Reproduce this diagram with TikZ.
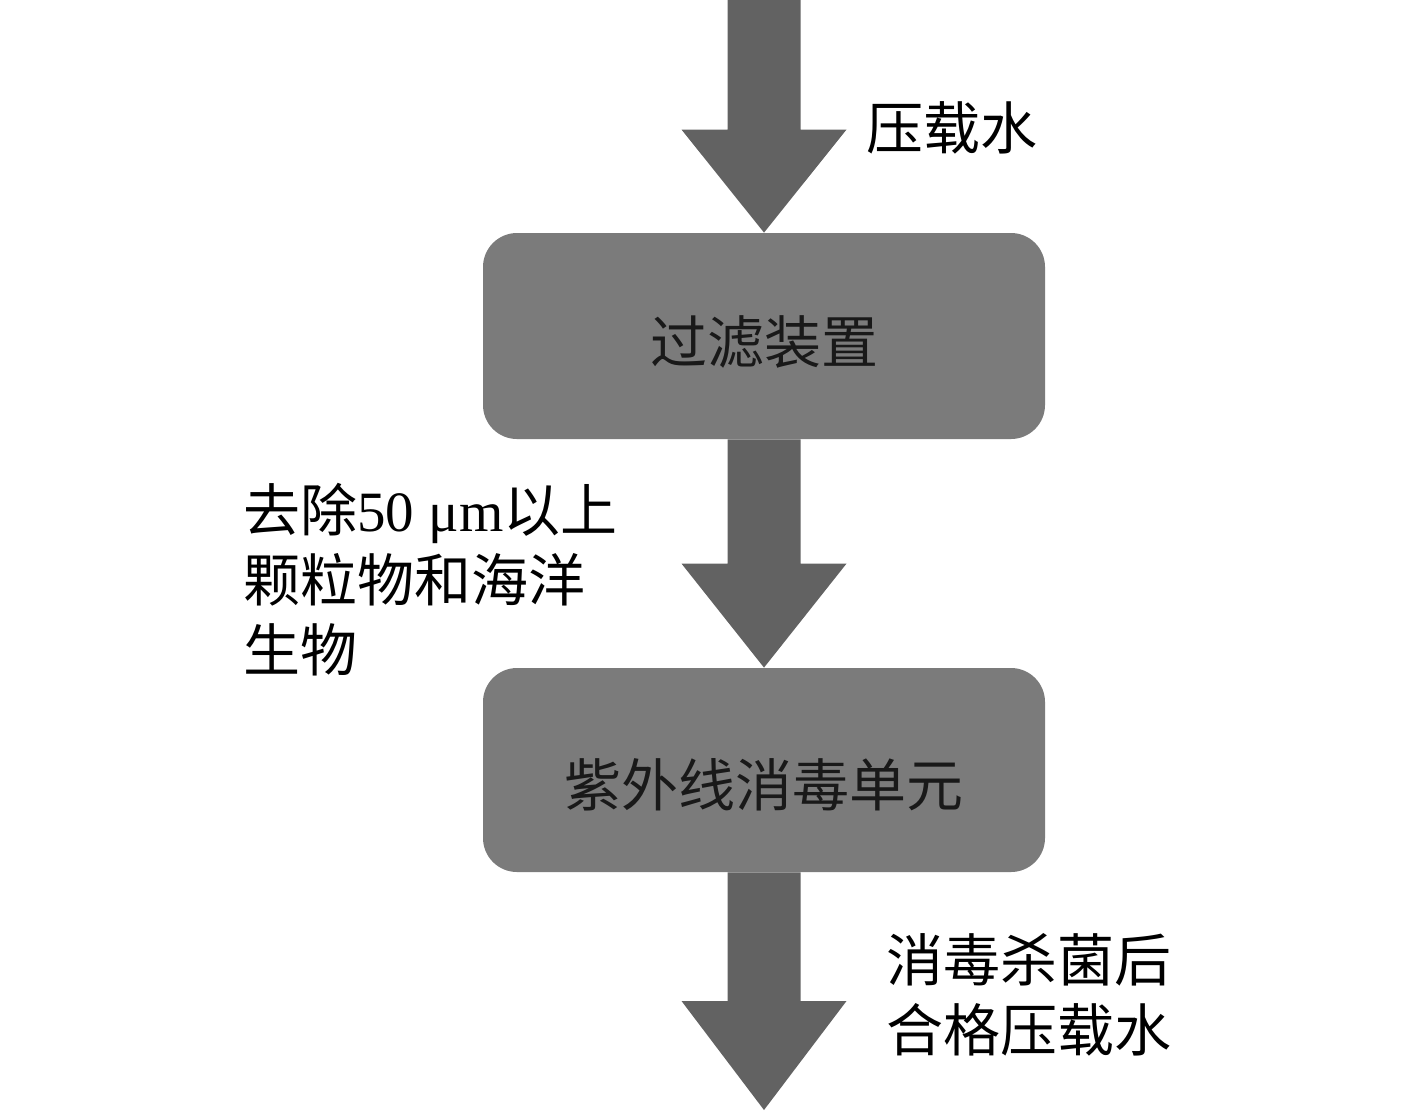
\documentclass[tikz,border=0pt]{standalone}
\usepackage{fontspec}
\setmainfont{Liberation Serif}
\newfontfamily\cjk{Noto Sans CJK SC}
\usetikzlibrary{calc}
\definecolor{boxgray}{HTML}{7B7B7B}
\definecolor{arrowgray}{HTML}{626262}
\tikzset{
  box/.style={rectangle, rounded corners=17pt, fill=boxgray, minimum width=281pt, minimum height=102pt, inner sep=0pt, font=\cjk\fontsize{28.5}{35}\selectfont, text=black!90},
  lbl/.style={font=\cjk\fontsize{28.5}{35}\selectfont, align=left, inner sep=0pt, anchor=west},
  arrowfill/.style={fill=arrowgray}
}
\newcommand\blockarr[3]{%
  \fill[arrowfill] ($(#1)+(-36.5,0)$) -- ($(#2)+(-36.5,-#3)$) -- ($(#2)+(-82.5,-#3)$) -- (#2)
    -- ($(#2)+(82.5,-#3)$) -- ($(#2)+(36.5,-#3)$) -- ($(#1)+(36.5,0)$) -- cycle;}
\begin{document}
\begin{tikzpicture}[x=0.5pt,y=-0.5pt]
\useasboundingbox (0,0) rectangle (1417,1115);
\node[box, minimum height=103pt] (b1) at (764,336) {\raisebox{-13.8pt}[0pt][0pt]{过滤装置}};
\node[box] (b2) at (764,770) {\raisebox{-18.3pt}[0pt][0pt]{紫外线消毒单元}};
\coordinate (top) at (764,0);
\coordinate (bot) at (764,1110);
\blockarr{top}{b1.north}{103}
\blockarr{b1.south}{b2.north}{104}
\blockarr{b2.south}{bot}{109}
\node[lbl] (t1) at (866,128) {压载水};
\node[lbl] (t2) at (243,580) {去除{\rmfamily 50 μm}以上\\颗粒物和海洋\\生物};
\node[lbl] (t3) at (886,995) {消毒杀菌后\\合格压载水};
\end{tikzpicture}
\end{document}
